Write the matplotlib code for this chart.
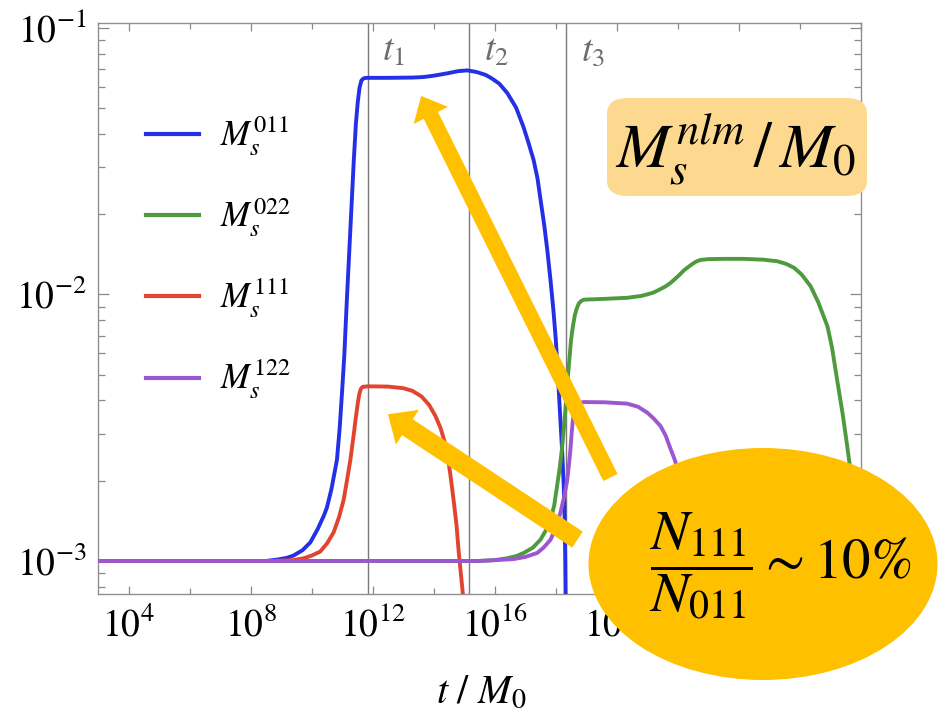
import numpy as np
import matplotlib
matplotlib.use("Agg")
import matplotlib.pyplot as plt
from matplotlib.patches import Ellipse, FancyBboxPatch
from matplotlib.ticker import FixedLocator, LogLocator, NullFormatter, FuncFormatter

plt.rcParams["font.family"] = ["STIXGeneral", "DejaVu Serif"]
plt.rcParams["mathtext.fontset"] = "stix"

# ---- data: log10(t/M0) and log10(M_s/M0) for each cloud mode ----
logt_011 = [3.0, 8.5, 8.87, 9.2, 9.4, 9.7, 9.96, 10.2, 10.4, 10.5, 10.65, 10.83,
            10.92, 11.0, 11.07, 11.15, 11.25, 11.38, 11.45, 11.51, 11.57, 11.63,
            11.70, 11.8, 12.5, 13.3, 13.66, 14.0, 14.4, 14.8, 15.1, 15.4, 15.7,
            15.9, 16.15, 16.41, 16.7, 16.94, 17.1, 17.27, 17.4, 17.5, 17.62, 17.72,
            17.82, 17.92, 18.0, 18.09, 18.15, 18.21, 18.26, 18.29, 18.31, 18.32, 18.33]
logm_011 = [-3.0, -3.0, -2.995, -2.988, -2.98, -2.96, -2.93, -2.88, -2.83, -2.80,
            -2.73, -2.62, -2.50, -2.36, -2.23, -2.03, -1.80, -1.50, -1.36, -1.28,
            -1.225, -1.198, -1.19, -1.188, -1.188, -1.187, -1.185, -1.18, -1.172,
            -1.163, -1.16, -1.166, -1.177, -1.19, -1.21, -1.245, -1.30, -1.372,
            -1.43, -1.495, -1.565, -1.645, -1.74, -1.833, -1.94, -2.058, -2.17,
            -2.346, -2.47, -2.593, -2.72, -2.844, -3.0, -3.118, -3.3]

logt_022 = [3.0, 15.5, 16.0, 16.4, 16.7, 16.95, 17.25, 17.5, 17.7, 17.83, 17.95,
            18.04, 18.13, 18.21, 18.29, 18.37, 18.44, 18.5, 18.56, 18.62, 18.68,
            18.75, 18.83, 18.92, 19.6, 20.34, 20.8, 21.0, 21.21, 21.4, 21.6, 21.76,
            21.9, 22.05, 22.2, 22.31, 22.45, 22.6, 22.74, 23.0, 23.5, 24.16, 24.8,
            25.26, 25.55, 25.8, 26.05, 26.35, 26.6, 26.9, 27.05, 27.23, 27.4, 27.56,
            27.7, 27.85, 28.05]
logm_022 = [-3.0, -3.0, -2.997, -2.99, -2.982, -2.97, -2.95, -2.92, -2.88, -2.846,
            -2.79, -2.72, -2.65, -2.57, -2.47, -2.345, -2.25, -2.17, -2.12, -2.08,
            -2.055, -2.035, -2.025, -2.02, -2.017, -2.013, -2.006, -2.0, -1.993,
            -1.982, -1.97, -1.957, -1.943, -1.927, -1.91, -1.90, -1.888, -1.877,
            -1.871, -1.868, -1.867, -1.867, -1.87, -1.876, -1.886, -1.90, -1.925,
            -1.97, -2.03, -2.12, -2.2, -2.33, -2.45, -2.58, -2.7, -2.85, -3.1]

logt_111 = [3.0, 8.8, 9.4, 9.74, 10.0, 10.28, 10.5, 10.72, 10.9, 11.05, 11.17,
            11.27, 11.38, 11.45, 11.51, 11.56, 11.61, 11.67, 11.85, 12.5, 13.0,
            13.3, 13.6, 13.85, 14.05, 14.22, 14.35, 14.44, 14.55, 14.66, 14.75,
            14.82, 14.9, 14.96, 15.0]
logm_111 = [-3.0, -3.0, -2.997, -2.99, -2.98, -2.965, -2.935, -2.893, -2.835, -2.77,
            -2.69, -2.62, -2.525, -2.46, -2.41, -2.375, -2.355, -2.347, -2.345,
            -2.346, -2.352, -2.362, -2.383, -2.415, -2.455, -2.50, -2.55, -2.593,
            -2.68, -2.78, -2.87, -2.968, -3.06, -3.13, -3.2]

logt_122 = [3.0, 15.5, 16.62, 17.0, 17.39, 17.6, 17.83, 18.0, 18.15, 18.27, 18.37,
            18.43, 18.48, 18.52, 18.56, 18.61, 18.67, 18.75, 18.92, 19.6, 20.34,
            20.7, 21.0, 21.2, 21.43, 21.6, 21.76, 21.88, 21.98, 22.1, 22.2, 22.3, 22.4]
logm_122 = [-3.0, -3.0, -2.993, -2.985, -2.97, -2.95, -2.92, -2.875, -2.82, -2.76,
            -2.70, -2.64, -2.58, -2.52, -2.47, -2.435, -2.417, -2.408, -2.404,
            -2.405, -2.41, -2.422, -2.444, -2.465, -2.494, -2.53, -2.58, -2.615,
            -2.65, -2.73, -2.82, -2.95, -3.2]

series_labels = [r"$M_s^{011}$", r"$M_s^{022}$", r"$M_s^{111}$", r"$M_s^{122}$"]
series_colors = ["#2430E6", "#4F9A3E", "#E2452F", "#9A57CF"]

# transition times t1, t2, t3 (log10)
logt_marks = [11.84, 15.17, 18.34]
mark_labels = [r"$t_1$", r"$t_2$", r"$t_3$"]

# ---- figure ----
fig = plt.figure(figsize=(9.44, 7.10), dpi=100)
ax = fig.add_axes([0.1038, 0.1630, 0.8083, 0.8051])
ax.set_xscale("log")
ax.set_yscale("log")

curves = [(logt_011, logm_011), (logt_022, logm_022),
          (logt_111, logm_111), (logt_122, logm_122)]
for (lx, ly), lab, col in zip(curves, series_labels, series_colors):
    ax.plot(10.0 ** np.asarray(lx), 10.0 ** np.asarray(ly), color=col, lw=2.8,
            label=lab, zorder=3, solid_joinstyle="round")

for lt, lab in zip(logt_marks, mark_labels):
    ax.axvline(10.0 ** lt, color="#7a7a7a", lw=1.0, zorder=2)
    ax.annotate(lab, xy=(10.0 ** lt, 1.0), xycoords=("data", "axes fraction"),
                xytext=(10.5, -21), textcoords="offset points",
                ha="left", va="center", fontsize=27, color="#6e6e6e")

ax.set_xlim(1e3, 1e28)
ax.set_ylim(10 ** -3.125, 10 ** -0.981)


def t_label(val, pos):
    e = int(round(np.log10(val)))
    return r"$\mathdefault{10^{%d}}$" % e if e <= 20 else ""


# ticks
ax.xaxis.set_major_locator(FixedLocator(10.0 ** np.arange(4, 29, 4)))
ax.xaxis.set_minor_locator(FixedLocator(10.0 ** np.arange(6, 29, 4)))
ax.xaxis.set_major_formatter(FuncFormatter(t_label))
ax.xaxis.set_minor_formatter(NullFormatter())
ax.yaxis.set_major_locator(LogLocator(base=10, numticks=10))
ax.yaxis.set_minor_locator(LogLocator(base=10, subs=np.arange(2, 10), numticks=10))
ax.yaxis.set_minor_formatter(NullFormatter())

tick_col = "#8a8a8a"
ax.tick_params(which="both", direction="in", top=True, right=True, color=tick_col,
               width=0.9, labelsize=27)
ax.tick_params(axis="x", which="major", length=5.5, pad=9)
ax.tick_params(axis="x", which="minor", length=4)
ax.tick_params(axis="y", which="major", length=8, pad=8)
ax.tick_params(axis="y", which="minor", length=5)
for sp in ax.spines.values():
    sp.set_color("#8f8f8f")
    sp.set_linewidth(1.0)

fig.text(481 / 944, 1 - 693 / 710, r"$t\ /\ M_0$", ha="center", va="center", fontsize=29)

leg = ax.legend(loc="upper left", bbox_to_anchor=(0.063, 0.839), frameon=False,
                fontsize=25, handlelength=1.53, handletextpad=0.6,
                labelspacing=1.1, borderpad=0, borderaxespad=0)
for h in leg.get_lines():
    h.set_linewidth(3.0)

# ---- callouts ----
arrow_col = "#FFC000"
ax.annotate("", xy=(10 ** 13.59, 10 ** -1.256), xytext=(10 ** 19.79, 10 ** -2.687),
            arrowprops=dict(arrowstyle="simple,head_width=2.3,head_length=1.3,tail_width=0.95",
                            mutation_scale=12, color=arrow_col, lw=0,
                            shrinkA=0, shrinkB=0),
            annotation_clip=False, zorder=6)
ax.annotate("", xy=(10 ** 12.5, 10 ** -2.45), xytext=(10 ** 18.71, 10 ** -2.92),
            arrowprops=dict(arrowstyle="simple,head_width=2.5,head_length=1.4,tail_width=1.15",
                            mutation_scale=12, color=arrow_col, lw=0,
                            shrinkA=0, shrinkB=0),
            annotation_clip=False, zorder=6)

box = FancyBboxPatch((607 / 944, 1 - 196 / 710), 260 / 944, 98 / 710,
                     boxstyle="round,pad=0,rounding_size=0.022",
                     transform=fig.transFigure, facecolor="#FDD990",
                     edgecolor="none", zorder=7)
fig.add_artist(box)
fig.text(735 / 944, 1 - 150 / 710, r"$M_s^{nlm}\,/\,M_0$", ha="center", va="center",
         fontsize=46, zorder=8)

ell = Ellipse((763 / 944, 1 - 564 / 710), 349 / 944, 232 / 710,
              transform=fig.transFigure, facecolor=arrow_col, edgecolor="none", zorder=7)
fig.add_artist(ell)
fig.text(780 / 944, 1 - 566 / 710, r"$\dfrac{N_{111}}{N_{011}}\sim 10\%$",
         ha="center", va="center", fontsize=41, zorder=8)

fig.savefig("out.png", dpi=100)
